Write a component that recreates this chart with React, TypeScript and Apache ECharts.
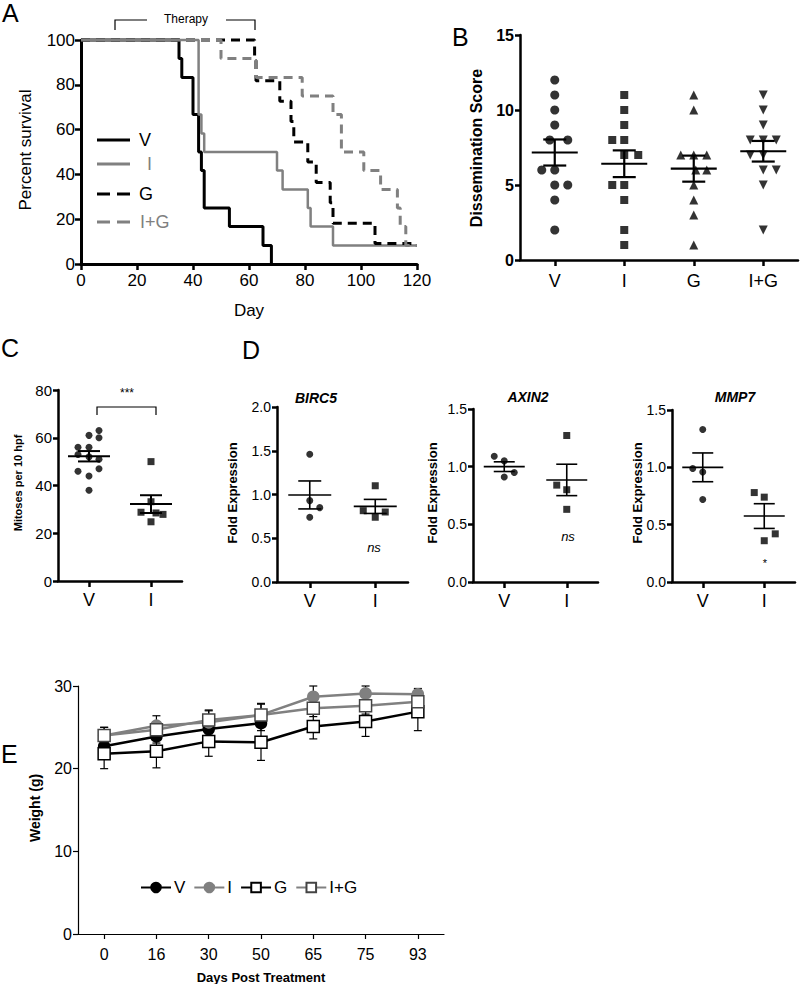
import React, { useEffect, useRef } from 'react';
import * as echarts from 'echarts';

const FONT = '"Liberation Sans", Arial, Helvetica, sans-serif';
const GRAY = '#808080';
const BLACK = '#000000';

// ---------- Panel A: Kaplan-Meier survival (day, percent survival) ----------
const SURV_V = [[0, 100], [35, 91.7], [36, 83.3], [40, 66.7], [42, 50], [43, 41.7], [44, 25], [53, 16.7], [65, 8.3], [68, 0]];
const SURV_I = [[0, 100], [42, 66.7], [43, 58.3], [44, 50], [70, 41.7], [72, 33.3], [81, 25], [82, 16.7], [90, 8.3], [120, 8.3]];
const SURV_G = [[0, 100], [62, 90.9], [62.5, 81.8], [71, 72.7], [75, 63.6], [76, 54.5], [81, 45.5], [84, 36.4], [89, 27.3], [90, 18.2], [105, 9.1], [120, 9.1]];
const SURV_IG = [[0, 100], [50, 91.7], [62.5, 83.3], [79, 75], [90, 66.7], [93, 50], [101, 41.7], [107, 33.3], [113, 25], [114, 16.7], [116, 8.3], [120, 8.3]];

// ---------- Panel B: dissemination score ----------
const B_CATS = ['V', 'I', 'G', 'I+G'];
const B_V = [12, 11, 10, 9, 8, 8, 6, 6, 5, 5, 4, 2];
const B_I = [11, 10, 9, 8, 8, 7, 7, 5, 5, 4, 2, 1];
const B_G = [11, 10, 7, 7, 7, 6, 6, 5, 4, 3, 1];
const B_IG = [11, 10, 9, 8, 8, 8, 7, 7, 6, 6, 5, 2];
// horizontal scatter jitter (px), layout only
const B_V_JIT = [0, 0, 0, 0, -5, 13, -13, 0, 0, 13, 0, 0];
const B_I_JIT = [0, 0, 0, -12, 0, 0, 14, -12, 0, 0, 0, 0];
const B_G_JIT = [0, 0, -13, 0, 13, 2, 13, 0, 0, 0, 0];
const B_IG_JIT = [0, 0, 0, -13, 0, 13, -13, 0, 13, 0, 0, 0];

// ---------- Panel C: mitoses ----------
const C_CATS = ['V', 'I'];
const C_V = [63, 61, 60, 56, 56, 53, 52, 51, 47, 46, 44, 38];
const C_I = [50, 33.2, 28.8, 28.5, 27.9, 24.8];
const C_V_JIT = [10, 0, 10, -11, 0, -11, 0, 10, 10, -11, 0, 0];
const C_I_JIT = [0, 0, -10, 5, 12, 0];

// ---------- Panel D: fold expression ----------
const D_CATS = ['V', 'I'];
const BIRC5_V = [1.46, 0.93, 0.85, 0.74];
const BIRC5_I = [1.10, 0.815, 0.80, 0.74];
const AXIN2_V = [1.09, 1.05, 0.91, 0.95];
const AXIN2_I = [1.27, 0.84, 0.80, 0.63];
const MMP7_V = [1.33, 0.99, 0.96, 0.72];
const MMP7_I = [0.78, 0.74, 0.42, 0.36];
const BIRC5_V_JIT = [0, 0, 10, 0];
const BIRC5_I_JIT = [0, -12, 10, 0];
const AXIN2_V_JIT = [-10, 0, 0, 10];
const AXIN2_I_JIT = [0, -10, 0, 0];
const MMP7_V_JIT = [0, -10, 0, 0];
const MMP7_I_JIT = [-10, 0, 11, 0];

// ---------- Panel E: body weight ----------
const E_DAYS = ['0', '16', '30', '50', '65', '75', '93'];
const E_V = [22.7, 23.9, 24.8, 25.5, null, null, null];
const E_V_ERR = [0.6, 0.8, 0.8, 0.9, null, null, null];
const E_I = [24.0, 25.2, 25.6, 26.5, 28.7, 29.1, 29.0];
const E_I_ERR = [1.0, 1.2, 1.4, 1.3, 1.3, 0.9, 0.7];
const E_G = [21.8, 22.1, 23.3, 23.2, 25.1, 25.7, 26.9];
const E_G_ERR = [1.8, 2.0, 1.8, 2.2, 1.5, 1.8, 2.3];
const E_IG = [24.0, 24.7, 25.9, 26.5, 27.3, 27.6, 28.1];
const E_IG_ERR = [1.0, 1.0, 1.2, 1.4, 1.0, 1.0, 1.0];

const mean = (a: number[]) => a.reduce((s, v) => s + v, 0) / a.length;
const sem = (a: number[]) => {
  const m = mean(a);
  const v = a.reduce((s, x) => s + (x - m) * (x - m), 0) / (a.length - 1);
  return Math.sqrt(v) / Math.sqrt(a.length);
};

function meanSem(name: string, idx: number, groups: number[][], meanW: number, semW: number, lw: number) {
  return {
    type: 'custom', name, xAxisIndex: idx, yAxisIndex: idx, z: 6, silent: true,
    renderItem: (_p: any, api: any) => {
      const x = api.value(0), m = api.value(1), s = api.value(2);
      const c = api.coord([x, m]);
      const hi = api.coord([x, m + s]);
      const lo = api.coord([x, m - s]);
      const st = { stroke: BLACK, lineWidth: lw, fill: null };
      return {
        type: 'group', children: [
          { type: 'line', shape: { x1: c[0] - meanW / 2, y1: c[1], x2: c[0] + meanW / 2, y2: c[1] }, style: st },
          { type: 'line', shape: { x1: c[0] - semW / 2, y1: hi[1], x2: c[0] + semW / 2, y2: hi[1] }, style: st },
          { type: 'line', shape: { x1: c[0] - semW / 2, y1: lo[1], x2: c[0] + semW / 2, y2: lo[1] }, style: st },
          { type: 'line', shape: { x1: c[0], y1: hi[1], x2: c[0], y2: lo[1] }, style: st },
        ],
      };
    },
    data: groups.map((g, i) => [i, mean(g), sem(g)]),
  };
}

function dots(name: string, idx: number, cat: number, values: number[], jit: number[], symbol: string, size: number, rotate = 0) {
  return {
    type: 'scatter', name, xAxisIndex: idx, yAxisIndex: idx, symbol, symbolSize: size, symbolRotate: rotate,
    itemStyle: { color: BLACK }, z: 5, silent: true,
    data: values.map((v, k) => ({ value: [cat, v], symbolOffset: [jit[k], 0] })),
  };
}

function errBars(name: string, values: (number | null)[], errs: (number | null)[]) {
  const data: number[][] = [];
  values.forEach((v, i) => { if (v != null && errs[i] != null) data.push([i, v, errs[i] as number]); });
  return {
    type: 'custom', name, xAxisIndex: 6, yAxisIndex: 6, z: 1, silent: true,
    renderItem: (_p: any, api: any) => {
      const x = api.value(0), m = api.value(1), e = api.value(2);
      const hi = api.coord([x, m + e]);
      const lo = api.coord([x, m - e]);
      const st = { stroke: BLACK, lineWidth: 1.2, fill: null };
      return {
        type: 'group', children: [
          { type: 'line', shape: { x1: hi[0], y1: hi[1], x2: lo[0], y2: lo[1] }, style: st },
          { type: 'line', shape: { x1: hi[0] - 4, y1: hi[1], x2: hi[0] + 4, y2: hi[1] }, style: st },
          { type: 'line', shape: { x1: lo[0] - 4, y1: lo[1], x2: lo[0] + 4, y2: lo[1] }, style: st },
        ],
      };
    },
    data,
  };
}

const lineStyleAxis = (w: number) => ({ show: true, lineStyle: { color: BLACK, width: w } });
const tick = (len: number, w: number) => ({ show: true, length: len, lineStyle: { color: BLACK, width: w } });

function valueY(grid: number, min: number, max: number, interval: number, lw: number, font: number, bold = false, dec = 0) {
  return {
    gridIndex: grid, type: 'value', min, max, interval,
    axisLine: lineStyleAxis(lw), axisTick: tick(5, lw), splitLine: { show: false },
    axisLabel: {
      fontSize: font, color: BLACK, fontFamily: FONT, fontWeight: bold ? 'bold' : 'normal', margin: 6,
      formatter: (v: number) => v.toFixed(dec),
    },
  };
}

function catX(grid: number, cats: string[], lw: number, font: number, margin: number) {
  return {
    gridIndex: grid, type: 'category', data: cats, boundaryGap: true,
    axisLine: lineStyleAxis(lw), axisTick: { ...tick(6, lw), alignWithLabel: true },
    axisLabel: { fontSize: font, color: BLACK, fontFamily: FONT, margin },
    splitLine: { show: false },
  };
}

function txt(text: string, x: number, y: number, size: number, opts: any = {}) {
  return {
    type: 'text', x, y, rotation: opts.rotation || 0, silent: true,
    style: {
      text, fill: opts.color || BLACK, align: opts.align || 'center', verticalAlign: opts.va || 'middle',
      font: `${opts.style || 'normal'} ${opts.weight || 'normal'} ${size}px ${FONT}`,
    },
  };
}

function seg(points: number[][], color = BLACK, width = 1.2, dash: any = null) {
  return {
    type: 'polyline', silent: true, shape: { points },
    style: { stroke: color, lineWidth: width, fill: null, lineDash: dash },
  };
}

export default function App() {
  const ref = useRef<HTMLDivElement>(null);
  useEffect(() => {
    if (!ref.current) return;
    const chart = echarts.init(ref.current, null, { renderer: 'svg' });
    const g = (left: number, top: number, width: number, height: number) => ({ left, top, width, height, containLabel: false, outerBoundsMode: 'none' });
    const survLine = (name: string, data: number[][], color: string, width: number, dashed: boolean) => ({
      type: 'line', name, xAxisIndex: 0, yAxisIndex: 0, data, step: 'end', symbol: 'none', showSymbol: false,
      clip: false, silent: true, z: dashed ? 3 : 2,
      lineStyle: { color, width, type: dashed ? [9, 6] : 'solid' },
    });
    const eLine = (name: string, data: (number | null)[], color: string, symbol: string, fill: string, border: string) => ({
      type: 'line', name, xAxisIndex: 6, yAxisIndex: 6, data, symbol, symbolSize: symbol === 'circle' ? 11 : 12,
      showSymbol: true, connectNulls: false, z: 3,
      lineStyle: { color, width: 2.5 },
      itemStyle: { color: fill, borderColor: border, borderWidth: 1.5 },
    });

    chart.setOption({
      animation: false,
      backgroundColor: '#ffffff',
      textStyle: { fontFamily: FONT },
      grid: [
        g(81, 40, 336, 224),   // A
        g(520, 35, 278, 225),  // B
        g(58, 390, 124, 191),  // C
        g(277, 407, 131, 175), // D BIRC5
        g(473, 409, 125, 173), // D AXIN2
        g(672, 410, 123, 172), // D MMP7
        g(78, 686, 366, 248),  // E
      ],
      xAxis: [
        {
          gridIndex: 0, type: 'value', min: 0, max: 120, interval: 20,
          axisLine: lineStyleAxis(3), axisTick: tick(6, 2.5), splitLine: { show: false },
          axisLabel: { fontSize: 17, color: BLACK, fontFamily: FONT, margin: 8 },
        },
        catX(1, B_CATS, 2.5, 18, 12),
        catX(2, C_CATS, 2.5, 18, 10),
        catX(3, D_CATS, 2.5, 18, 10),
        catX(4, D_CATS, 2.5, 18, 10),
        catX(5, D_CATS, 2.5, 18, 10),
        {
          ...catX(6, E_DAYS, 1.2, 16, 12),
          axisTick: { ...tick(5, 1.2), alignWithLabel: true },
        },
      ],
      yAxis: [
        { ...valueY(0, 0, 100, 20, 3, 17), axisTick: tick(6, 2.5) },
        valueY(1, 0, 15, 5, 2.5, 16, true),
        valueY(2, 0, 80, 20, 2.5, 15),
        valueY(3, 0, 2, 0.5, 2.5, 14, false, 1),
        valueY(4, 0, 1.5, 0.5, 2.5, 14, false, 1),
        valueY(5, 0, 1.5, 0.5, 2.5, 14, false, 1),
        { ...valueY(6, 0, 30, 10, 1.2, 16), axisTick: tick(5, 1.2) },
      ],
      legend: {
        data: ['V', 'I', 'G', 'I+G'], left: 140, top: 879, orient: 'horizontal',
        itemWidth: 30, itemHeight: 12, itemGap: 8, padding: 0, selectedMode: false,
        textStyle: { fontSize: 17, color: BLACK, fontFamily: FONT, padding: [0, 0, 0, -2] },
      },
      series: [
        survLine('V survival', SURV_V, BLACK, 3, false),
        survLine('I survival', SURV_I, GRAY, 2.5, false),
        survLine('G survival', SURV_G, BLACK, 3, true),
        survLine('I+G survival', SURV_IG, GRAY, 3, true),

        dots('B V', 1, 0, B_V, B_V_JIT, 'circle', 9),
        dots('B I', 1, 1, B_I, B_I_JIT, 'rect', 8),
        dots('B G', 1, 2, B_G, B_G_JIT, 'triangle', 9),
        dots('B I+G', 1, 3, B_IG, B_IG_JIT, 'triangle', 9, 180),
        meanSem('B mean', 1, [B_V, B_I, B_G, B_IG], 46, 23, 2.2),

        dots('C V', 2, 0, C_V, C_V_JIT, 'circle', 7),
        dots('C I', 2, 1, C_I, C_I_JIT, 'rect', 7),
        meanSem('C mean', 2, [C_V, C_I], 42, 22, 2),

        dots('BIRC5 V', 3, 0, BIRC5_V, BIRC5_V_JIT, 'circle', 7),
        dots('BIRC5 I', 3, 1, BIRC5_I, BIRC5_I_JIT, 'rect', 7),
        meanSem('BIRC5 mean', 3, [BIRC5_V, BIRC5_I], 43, 23, 1.6),

        dots('AXIN2 V', 4, 0, AXIN2_V, AXIN2_V_JIT, 'circle', 7),
        dots('AXIN2 I', 4, 1, AXIN2_I, AXIN2_I_JIT, 'rect', 7),
        meanSem('AXIN2 mean', 4, [AXIN2_V, AXIN2_I], 41, 21, 1.6),

        dots('MMP7 V', 5, 0, MMP7_V, MMP7_V_JIT, 'circle', 7),
        dots('MMP7 I', 5, 1, MMP7_I, MMP7_I_JIT, 'rect', 7),
        meanSem('MMP7 mean', 5, [MMP7_V, MMP7_I], 41, 21, 1.6),

        errBars('V err', E_V, E_V_ERR),
        errBars('I err', E_I, E_I_ERR),
        errBars('G err', E_G, E_G_ERR),
        errBars('I+G err', E_IG, E_IG_ERR),
        eLine('V', E_V, BLACK, 'circle', BLACK, BLACK),
        eLine('I', E_I, GRAY, 'circle', GRAY, GRAY),
        eLine('G', E_G, BLACK, 'rect', '#ffffff', BLACK),
        eLine('I+G', E_IG, GRAY, 'rect', '#ffffff', '#444444'),
      ],
      graphic: [
        // panel letters
        txt('A', 2, 0, 25, { align: 'left', va: 'top' }),
        txt('B', 452, 24, 25, { align: 'left', va: 'top' }),
        txt('C', 1, 335, 25, { align: 'left', va: 'top' }),
        txt('D', 242, 337, 25, { align: 'left', va: 'top' }),
        txt('E', 1, 741, 25, { align: 'left', va: 'top' }),

        // Panel A annotations
        seg([[115, 30], [115, 20], [147, 20]]),
        seg([[226, 20], [255, 20], [255, 30]]),
        txt('Therapy', 186, 19, 12),
        txt('Percent survival', 25, 150, 17, { rotation: Math.PI / 2 }),
        txt('Day', 249, 310, 17),
        seg([[97, 140], [130, 140]], BLACK, 3),
        seg([[97, 164], [130, 164]], GRAY, 3),
        seg([[97, 194], [130, 194]], BLACK, 3, [13, 7]),
        seg([[97, 222], [130, 222]], GRAY, 3, [13, 7]),
        txt('V', 139, 140, 18, { align: 'left' }),
        txt('I', 147, 164, 18, { align: 'left', color: GRAY }),
        txt('G', 139, 194, 18, { align: 'left' }),
        txt('I+G', 140, 222, 18, { align: 'left', color: GRAY }),

        // Panel B
        txt('Dissemination Score', 476, 148, 16, { rotation: Math.PI / 2, weight: 'bold' }),

        // Panel C
        txt('Mitoses per 10 hpf', 18, 483, 11, { rotation: Math.PI / 2, weight: 'bold' }),
        seg([[97, 415], [97, 407], [156, 407], [156, 415]]),
        txt('***', 127, 393, 12),

        // Panel D
        txt('BIRC5', 316, 398, 14, { weight: 'bold', style: 'italic' }),
        txt('AXIN2', 528, 397, 14, { weight: 'bold', style: 'italic' }),
        txt('MMP7', 735, 397, 14, { weight: 'bold', style: 'italic' }),
        txt('Fold Expression', 232, 493, 13, { rotation: Math.PI / 2, weight: 'bold' }),
        txt('Fold Expression', 432, 493, 13, { rotation: Math.PI / 2, weight: 'bold' }),
        txt('Fold Expression', 637, 493, 13, { rotation: Math.PI / 2, weight: 'bold' }),
        txt('ns', 374, 547, 13, { style: 'italic' }),
        txt('ns', 568, 536, 13, { style: 'italic' }),
        txt('*', 765, 563, 11),

        // Panel E
        txt('Weight (g)', 35, 808, 14, { rotation: Math.PI / 2, weight: 'bold' }),
        txt('Days Post Treatment', 261, 977, 13, { weight: 'bold' }),
      ],
    });
    return () => chart.dispose();
  }, []);
  return <div ref={ref} style={{ position: 'absolute', left: 0, top: 0, width: 800, height: 984 }} />;
}
